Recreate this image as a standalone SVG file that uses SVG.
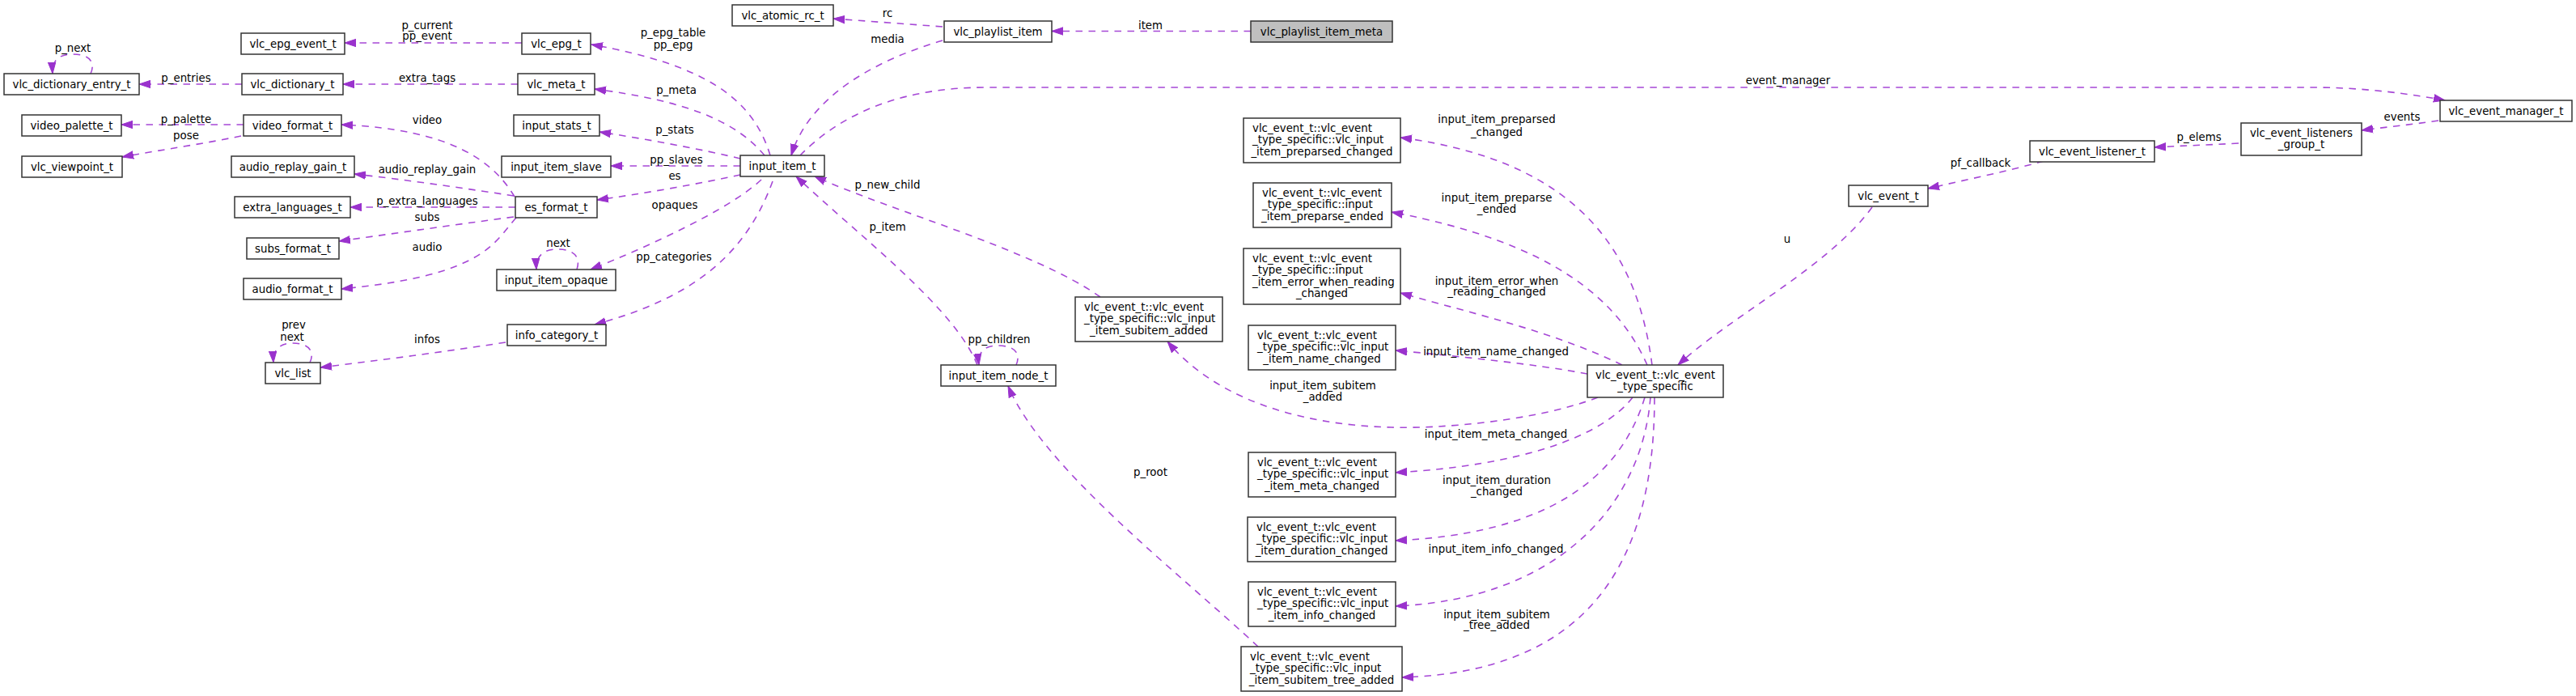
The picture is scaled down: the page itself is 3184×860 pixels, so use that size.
<svg xmlns="http://www.w3.org/2000/svg" width="3184" height="860" viewBox="0 0 3184 860">
<style>
text{font-family:"DejaVu Sans","Liberation Sans",sans-serif;font-size:13.33px;fill:#000}
.n rect{fill:#fff;stroke:#333;stroke-width:1.5}
.main rect{fill:#bfbfbf}
.n text{text-anchor:middle}
.n text.l{text-anchor:start}
#edges path{fill:none;stroke:#a648d6;stroke-width:1.6;stroke-dasharray:8.5,7.5;marker-end:url(#arr)}
#edges text{text-anchor:middle}
</style>
<defs>
<marker id="arr" markerUnits="userSpaceOnUse" markerWidth="16" markerHeight="12" viewBox="0 -6 16 12" refX="14" refY="0" orient="auto">
<path d="M0,-4.7 L14,0 L0,4.7 z" fill="#9a32cd" stroke="#9a32cd" stroke-width="1"/>
</marker>
</defs>
<rect width="3184" height="860" fill="#fff"/>
<g id="edges">
<path d="M1546,38.5 L1300,38.5"/><text x="1422" y="35.5">item</text>
<path d="M1165,33 L1030,23"/><text x="1097" y="20.5">rc</text>
<path d="M1165,50 C1080,75 1000,120 978,192"/><text x="1097" y="52.5">media</text>
<path d="M989,192 C1030,150 1100,108 1219,108 L2859,108 C2920,108 2980,116 3022,124"/><text x="2210" y="103.5">event_manager</text>
<path d="M952,192 C930,120 870,80 731,55"/><text x="832" y="44.5">p_epg_table</text><text x="832" y="59.5">pp_epg</text>
<path d="M945,192 C910,150 850,125 735,110"/><text x="836" y="115.5">p_meta</text>
<path d="M915,196 C870,185 800,172 741,163"/><text x="834" y="164.5">p_stats</text>
<path d="M915,205 L755,205"/><text x="836" y="201.5">pp_slaves</text>
<path d="M915,216 C860,228 790,240 738,247"/><text x="834" y="221.5">es</text>
<path d="M941,222 C900,260 800,305 730,333"/><text x="834" y="257.5">opaques</text>
<path d="M955,224 C920,320 850,370 735,401"/><text x="833" y="321.5">pp_categories</text>
<path d="M1208,451 C1180,380 1060,290 984,218"/><text x="1097" y="284.5">p_item</text>
<path d="M1360,367 C1280,310 1100,260 1007,218"/><text x="1097" y="232.5">p_new_child</text>
<path d="M1256,451 C1262,437 1255,427 1233,427 C1216,427 1208,436 1210,451"/><text x="1235" y="423.5">pp_children</text>
<path d="M1555,799 C1460,710 1290,580 1246,477"/><text x="1422" y="587.5">p_root</text>
<path d="M1975,491 C1900,520 1780,530 1720,528 C1600,525 1500,490 1443,422"/><text x="1635" y="480.5">input_item_subitem</text><text x="1635" y="494.5">_added</text>
<path d="M2042,451 C2025,320 1960,200 1731,170"/><text x="1850" y="151.5">input_item_preparsed</text><text x="1850" y="167.5">_changed</text>
<path d="M2036,451 C2000,370 1920,300 1720,262"/><text x="1850" y="248.5">input_item_preparse</text><text x="1850" y="262.5">_ended</text>
<path d="M2005,451 C1920,410 1830,390 1731,362"/><text x="1850" y="351.5">input_item_error_when</text><text x="1850" y="364.5">_reading_changed</text>
<path d="M1962,462 C1900,450 1800,440 1725,433"/><text x="1849" y="438.5">input_item_name_changed</text>
<path d="M2018,491 C1980,540 1880,575 1725,584"/><text x="1849" y="540.5">input_item_meta_changed</text>
<path d="M2033,491 C2000,600 1900,660 1725,668"/><text x="1850" y="597.5">input_item_duration</text><text x="1850" y="611.5">_changed</text>
<path d="M2040,491 C2030,620 1930,740 1725,749"/><text x="1849" y="682.5">input_item_info_changed</text>
<path d="M2045,491 C2045,700 1960,830 1733,837"/><text x="1850" y="763.5">input_item_subitem</text><text x="1850" y="776.5">_tree_added</text>
<path d="M2314,256 C2260,330 2140,390 2074,451"/><text x="2209" y="299.5">u</text>
<path d="M2526,199 C2480,212 2430,222 2383,233"/><text x="2448" y="205.5">pf_callback</text>
<path d="M2767,177 C2730,179 2700,180 2663,182"/><text x="2718" y="173.5">p_elems</text>
<path d="M3014,149 C2980,154 2950,157 2919,161"/><text x="2969" y="148.5">events</text>
<path d="M645,53 L426,53"/><text x="528" y="35.5">p_current</text><text x="528" y="48.5">pp_event</text>
<path d="M640,104 L424,104"/><text x="528" y="100.5">extra_tags</text>
<path d="M299,104 L172,104"/><text x="230" y="100.5">p_entries</text>
<path d="M112,91 C118,78 112,67 90,67 C72,67 64,75 65,91"/><text x="90" y="63.5">p_next</text>
<path d="M301,154 L150,154"/><text x="230" y="151.5">p_palette</text>
<path d="M298,168 C250,178 200,185 151,194"/><text x="230" y="171.5">pose</text>
<path d="M636,243 C610,200 560,160 422,154"/><text x="528" y="152.5">video</text>
<path d="M635,242 C570,232 500,222 438,215"/><text x="528" y="213.5">audio_replay_gain</text>
<path d="M637,256 L433,256"/><text x="528" y="252.5">p_extra_languages</text>
<path d="M635,268 C560,278 490,288 419,298"/><text x="528" y="272.5">subs</text>
<path d="M638,269 C610,300 600,340 422,357"/><text x="528" y="309.5">audio</text>
<path d="M713,333 C718,318 710,308 689,308 C672,308 662,316 663,333"/><text x="690" y="304.5">next</text>
<path d="M625,423 C540,436 470,445 396,454"/><text x="528" y="423.5">infos</text>
<path d="M383,448 C390,433 380,424 362,424 C346,424 337,432 338,448"/><text x="363" y="405.5">prev</text><text x="361" y="420.5">next</text>
</g>
<g id="n_meta" class="n main"><rect x="1546" y="26" width="175" height="26"/><text x="1633.5" y="43.5">vlc_playlist_item_meta</text></g>
<g id="n_playlist_item" class="n"><rect x="1167" y="26" width="133" height="26"/><text x="1233.5" y="43.5">vlc_playlist_item</text></g>
<g id="n_atomic" class="n"><rect x="905" y="6" width="125" height="26"/><text x="967.5" y="23.5">vlc_atomic_rc_t</text></g>
<g id="n_input_item" class="n"><rect x="915" y="192" width="104" height="26"/><text x="967" y="209.5">input_item_t</text></g>
<g id="n_epg" class="n"><rect x="645" y="41" width="85" height="26"/><text x="687.5" y="58.5">vlc_epg_t</text></g>
<g id="n_epg_event" class="n"><rect x="298" y="41" width="128" height="26"/><text x="362" y="58.5">vlc_epg_event_t</text></g>
<g id="n_dict_entry" class="n"><rect x="5" y="91" width="167" height="26"/><text x="88.5" y="108.5">vlc_dictionary_entry_t</text></g>
<g id="n_dict" class="n"><rect x="299" y="91" width="125" height="26"/><text x="361.5" y="108.5">vlc_dictionary_t</text></g>
<g id="n_vlc_meta" class="n"><rect x="640" y="91" width="95" height="26"/><text x="687.5" y="108.5">vlc_meta_t</text></g>
<g id="n_video_palette" class="n"><rect x="27" y="142" width="123" height="26"/><text x="88.5" y="159.5">video_palette_t</text></g>
<g id="n_video_format" class="n"><rect x="301" y="142" width="121" height="26"/><text x="361.5" y="159.5">video_format_t</text></g>
<g id="n_input_stats" class="n"><rect x="635" y="142" width="106" height="26"/><text x="688" y="159.5">input_stats_t</text></g>
<g id="n_viewpoint" class="n"><rect x="27" y="193" width="124" height="26"/><text x="89" y="210.5">vlc_viewpoint_t</text></g>
<g id="n_replay_gain" class="n"><rect x="286" y="193" width="152" height="26"/><text x="362" y="210.5">audio_replay_gain_t</text></g>
<g id="n_slave" class="n"><rect x="620" y="193" width="135" height="26"/><text x="687.5" y="210.5">input_item_slave</text></g>
<g id="n_extra_lang" class="n"><rect x="290" y="243" width="143" height="26"/><text x="361.5" y="260.5">extra_languages_t</text></g>
<g id="n_es_format" class="n"><rect x="637" y="243" width="101" height="26"/><text x="687.5" y="260.5">es_format_t</text></g>
<g id="n_subs_format" class="n"><rect x="305" y="294" width="114" height="26"/><text x="362" y="311.5">subs_format_t</text></g>
<g id="n_audio_format" class="n"><rect x="301" y="344" width="121" height="26"/><text x="361.5" y="361.5">audio_format_t</text></g>
<g id="n_opaque" class="n"><rect x="614" y="333" width="147" height="26"/><text x="687.5" y="350.5">input_item_opaque</text></g>
<g id="n_info_cat" class="n"><rect x="627" y="401" width="122" height="26"/><text x="688" y="418.5">info_category_t</text></g>
<g id="n_vlc_list" class="n"><rect x="328" y="448" width="68" height="26"/><text x="362" y="465.5">vlc_list</text></g>
<g id="n_node" class="n"><rect x="1163" y="451" width="142" height="26"/><text x="1234" y="468.5">input_item_node_t</text></g>
<g id="n_subitem_added" class="n"><rect x="1329" y="367" width="182" height="55"/><text class="l" x="1340" y="383.5">vlc_event_t::vlc_event</text><text class="l" x="1340" y="398">_type_specific::vlc_input</text><text x="1420" y="412.5">_item_subitem_added</text></g>
<g id="n_preparsed" class="n"><rect x="1537" y="146" width="194" height="55"/><text class="l" x="1548" y="162.5">vlc_event_t::vlc_event</text><text class="l" x="1548" y="177">_type_specific::vlc_input</text><text x="1634" y="191.5">_item_preparsed_changed</text></g>
<g id="n_preparse_ended" class="n"><rect x="1549" y="226" width="171" height="55"/><text class="l" x="1560" y="242.5">vlc_event_t::vlc_event</text><text class="l" x="1560" y="257">_type_specific::input</text><text x="1634.5" y="271.5">_item_preparse_ended</text></g>
<g id="n_error" class="n"><rect x="1537" y="307" width="194" height="69"/><text class="l" x="1548" y="323.5">vlc_event_t::vlc_event</text><text class="l" x="1548" y="338">_type_specific::input</text><text class="l" x="1548" y="352.5">_item_error_when_reading</text><text x="1634" y="367">_changed</text></g>
<g id="n_name" class="n"><rect x="1543" y="402" width="182" height="55"/><text class="l" x="1554" y="418.5">vlc_event_t::vlc_event</text><text class="l" x="1554" y="433">_type_specific::vlc_input</text><text x="1634" y="447.5">_item_name_changed</text></g>
<g id="n_meta_changed" class="n"><rect x="1543" y="559" width="182" height="55"/><text class="l" x="1554" y="575.5">vlc_event_t::vlc_event</text><text class="l" x="1554" y="590">_type_specific::vlc_input</text><text x="1634" y="604.5">_item_meta_changed</text></g>
<g id="n_duration" class="n"><rect x="1542" y="639" width="183" height="55"/><text class="l" x="1553" y="655.5">vlc_event_t::vlc_event</text><text class="l" x="1553" y="670">_type_specific::vlc_input</text><text x="1633.5" y="684.5">_item_duration_changed</text></g>
<g id="n_info" class="n"><rect x="1543" y="719" width="182" height="55"/><text class="l" x="1554" y="735.5">vlc_event_t::vlc_event</text><text class="l" x="1554" y="750">_type_specific::vlc_input</text><text x="1634" y="764.5">_item_info_changed</text></g>
<g id="n_tree_added" class="n"><rect x="1534" y="799" width="199" height="55"/><text class="l" x="1545" y="815.5">vlc_event_t::vlc_event</text><text class="l" x="1545" y="830">_type_specific::vlc_input</text><text x="1633.5" y="844.5">_item_subitem_tree_added</text></g>
<g id="n_type_specific" class="n"><rect x="1962" y="451" width="168" height="40"/><text x="2046" y="467.5">vlc_event_t::vlc_event</text><text x="2046" y="482">_type_specific</text></g>
<g id="n_event" class="n"><rect x="2285" y="229" width="98" height="26"/><text x="2334" y="246.5">vlc_event_t</text></g>
<g id="n_listener" class="n"><rect x="2509" y="174" width="154" height="26"/><text x="2586" y="191.5">vlc_event_listener_t</text></g>
<g id="n_listeners_group" class="n"><rect x="2770" y="152" width="149" height="40"/><text x="2844.5" y="168.5">vlc_event_listeners</text><text x="2844.5" y="183">_group_t</text></g>
<g id="n_manager" class="n"><rect x="3016" y="124" width="163" height="26"/><text x="3097.5" y="141.5">vlc_event_manager_t</text></g>
</svg>
